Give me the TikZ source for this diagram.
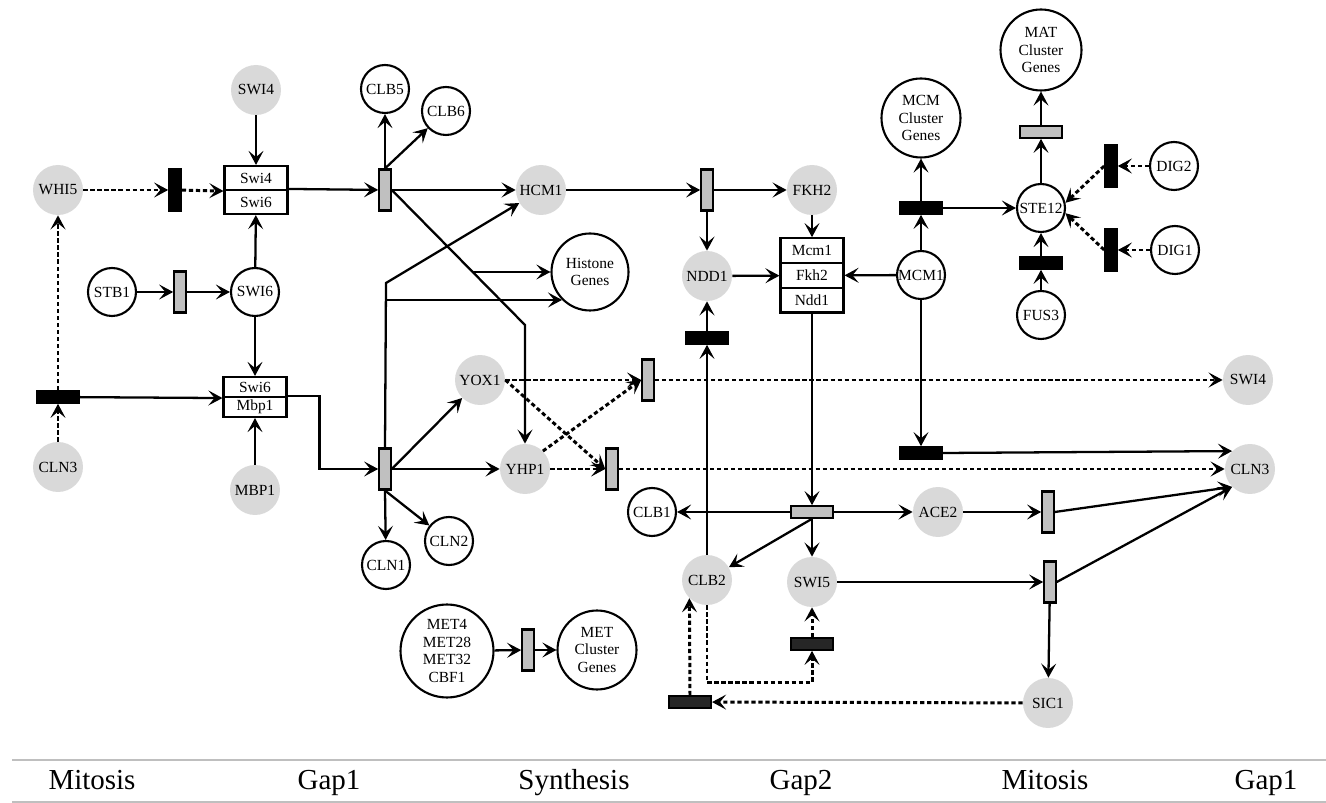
\documentclass[tikz,border=0pt]{standalone}
\usepackage{fontspec}
\setmainfont{Liberation Serif}
\usetikzlibrary{arrows.meta}
\definecolor{genegray}{HTML}{D9D9D9}
\definecolor{bargray}{HTML}{C0C0C0}
\definecolor{darkbar}{HTML}{262626}
\definecolor{rulegray}{HTML}{BFBFBF}
\tikzset{
    >={Stealth[length=8pt,width=8.5pt,inset=3.5pt]},
    gene/.style={circle,fill=genegray,minimum size=1cm,inner sep=0pt,font=\fontsize{8.8}{10}\selectfont},
    prot/.style={circle,draw,line width=1.2pt,minimum size=0.96cm,inner sep=0pt,align=center,font=\fontsize{8.8}{10}\selectfont},
    cell/.style={rectangle,draw,line width=1.2pt,minimum width=1.26cm,inner sep=0pt,font=\fontsize{8.8}{10}\selectfont},
    vbar/.style={rectangle,draw,line width=1.2pt,fill=bargray,minimum width=0.23cm,minimum height=0.82cm,inner sep=0pt},
    hbar/.style={rectangle,draw,line width=1.2pt,fill=bargray,minimum width=0.84cm,minimum height=0.23cm,inner sep=0pt},
    act/.style={->,line width=1.3pt},
    inh/.style={->,line width=1.7pt,dash pattern=on 2.4pt off 1.6pt},
    phase/.style={anchor=base,inner sep=0pt,font=\fontsize{16.5}{18}\selectfont},
    rule/.style={draw=rulegray,line width=1.2pt}
}
\begin{document}
\begin{tikzpicture}[x=0.02cm,y=-0.02cm]
        \useasboundingbox (0,0) rectangle (1326,803);
        \foreach \n/\x/\y/\l in {swi4/256/90/SWI4,whi5/58/190/WHI5,cln3/58/467/CLN3,mbp1/255/490/MBP1,hcm1/541/190/HCM1,fkh2/812/190/FKH2,ndd1/707/276/NDD1,yox1/480/380/YOX1,yhp1/525/469/YHP1,swi4b/1248/380/SWI4,cln3b/1250/469/CLN3,ace2/938/512/ACE2,clb2/707/580/CLB2,swi5/812/582/SWI5,sic1/1048/703/SIC1}{
            \node[gene] (\n) at (\x,\y) {\l};
        }
        \foreach \n/\x/\y/\l in {clb5/385/89/CLB5,clb6/446/111/CLB6,stb1/112/292/STB1,swi6/255/292/SWI6,cln1/386/565/CLN1,cln2/449/541/CLN2,clb1/652/512/CLB1,ste12/1041/208/STE12,dig2/1174/166/DIG2,dig1/1175/250/DIG1,fus3/1041/315/FUS3,mcm1/921/275/MCM1}{
            \node[prot] (\n) at (\x,\y) {\l};
        }
        \foreach \n/\x/\y/\s/\l in {histone/590/272/1.54/{Histone\\Genes},mcmgenes/921/118/1.58/{MCM\\Cluster\\Genes},matgenes/1041/50/1.62/{MAT\\Cluster\\Genes},met/447/651/1.86/{MET4\\MET28\\MET32\\CBF1},metgenes/597/650/1.58/{MET\\Cluster\\Genes}}{
            \node[prot,minimum size=\s cm] (\n) at (\x,\y) {\l};
        }
        \foreach \n/\x/\y/\h/\l in {s46a/256/178/0.48/Swi4,s46b/256/202/0.48/Swi6,s6ma/255/387/0.4/Swi6,s6mb/255/407/0.4/Mbp1,mcma/812/250.5/0.49/Mcm1,mcmb/812/275.5/0.49/Fkh2,mcmc/812/300.25/0.49/Ndd1}{
            \node[cell,minimum height=\h cm] (\n) at (\x,\y) {\l};
        }
        \foreach \n/\x/\y in {stbbar/180/292,gonebar/385/190,gtwobar/385/469,hcmbar/707/190,yoxbar/648/380,yhpbar/612/469,metbar/528/650,acebar/1048/512,swi5bar/1050/582}{
            \node[vbar] (\n) at (\x,\y) {};
        }
        \foreach \n/\x/\y in {whibar/175/190,dig2bar/1111/166,dig1bar/1111/250}{
            \node[vbar,fill=black] (\n) at (\x,\y) {};
        }
        \foreach \n/\x/\y/\c in {midbar/812/512/bargray,matbar/1041/132/bargray,clnbar/58/397/black,nddbar/707/338/black,mcmbar/921/208/black,fusbar/1041/263/black,mcmlowbar/921/453/black,swi5dbar/812/644/darkbar,clbbar/690/702/darkbar}{
            \node[hbar,fill=\c] (\n) at (\x,\y) {};
        }
        \coordinate (yhpturn) at (525,325);
        \coordinate (hcmturn) at (386,283);
        \coordinate (hista) at (472.6,272);
        \foreach \m/\n in {swi4/s46a,stb1/stbbar,stbbar/swi6,swi6/s46b,swi6/s6ma,mbp1/s6mb,clnbar/s6ma.south west,s46b.north east/gonebar,gonebar.north/clb5,gonebar.north/clb6,gonebar/hcm1,gtwobar.east/yox1,gtwobar/yhp1,gtwobar.south/cln1,gtwobar.south/cln2,hista/histone,hcm1/hcmbar,hcmbar/fkh2,hcmbar/ndd1,fkh2/mcma,ndd1/mcmb,mcm1/mcmb,mcm1/mcmbar,mcmbar/mcmgenes,mcmbar/ste12,mcm1/mcmlowbar,mcmlowbar.east/cln3b.135,ste12/matbar,matbar/matgenes,fus3/fusbar,fusbar/ste12,mcmc/midbar,midbar/clb1,midbar/ace2,midbar.south/clb2,midbar/swi5,ace2/acebar,acebar.east/cln3b.225,swi5/swi5bar,swi5bar.east/cln3b.225,swi5bar/sic1,clb2/nddbar,nddbar/ndd1,met/metbar,metbar/metgenes}{
            \draw[act] (\m) -- (\n);
        }
        \draw[act] (s6mb.north east) -- ++(32,0) |- (gtwobar.west);
        \draw[act] (gonebar.east) -- (yhpturn) -- (yhp1);
        \draw[act] (gtwobar.north) -- (hcmturn) -- (hcm1);
        \draw[act] (gtwobar.north |- histone.225) -- (histone.225);
        \foreach \m/\n in {whi5/whibar,whibar/s46a.south west,cln3/clnbar,clnbar/whi5,yox1/yoxbar,yox1.east/yhpbar.west,yhp1.45/yoxbar.west,yhp1/yhpbar,yoxbar/swi4b,yhpbar/cln3b,dig2/dig2bar,dig2bar.west/ste12.12,dig1/dig1bar,dig1bar.west/ste12.-12,sic1/clbbar,clbbar.north/clb2.226,swi5dbar/swi5}{
            \draw[inh] (\m) -- (\n);
        }
        \draw[inh] (clb2.south) -- ++(0,77) -| (swi5dbar.south);
        \draw[rule] (12,760) -- (1326,760);
        \draw[rule] (12,802) -- (1326,802);
        \foreach \n/\x/\l in {pa/92/Mitosis,pb/329/Gap1,pc/574/Synthesis,pd/801/Gap2,pe/1045/Mitosis,pf/1266/Gap1}{
            \node[phase] (\n) at (\x,789) {\l};
        }
\end{tikzpicture}
\end{document}
